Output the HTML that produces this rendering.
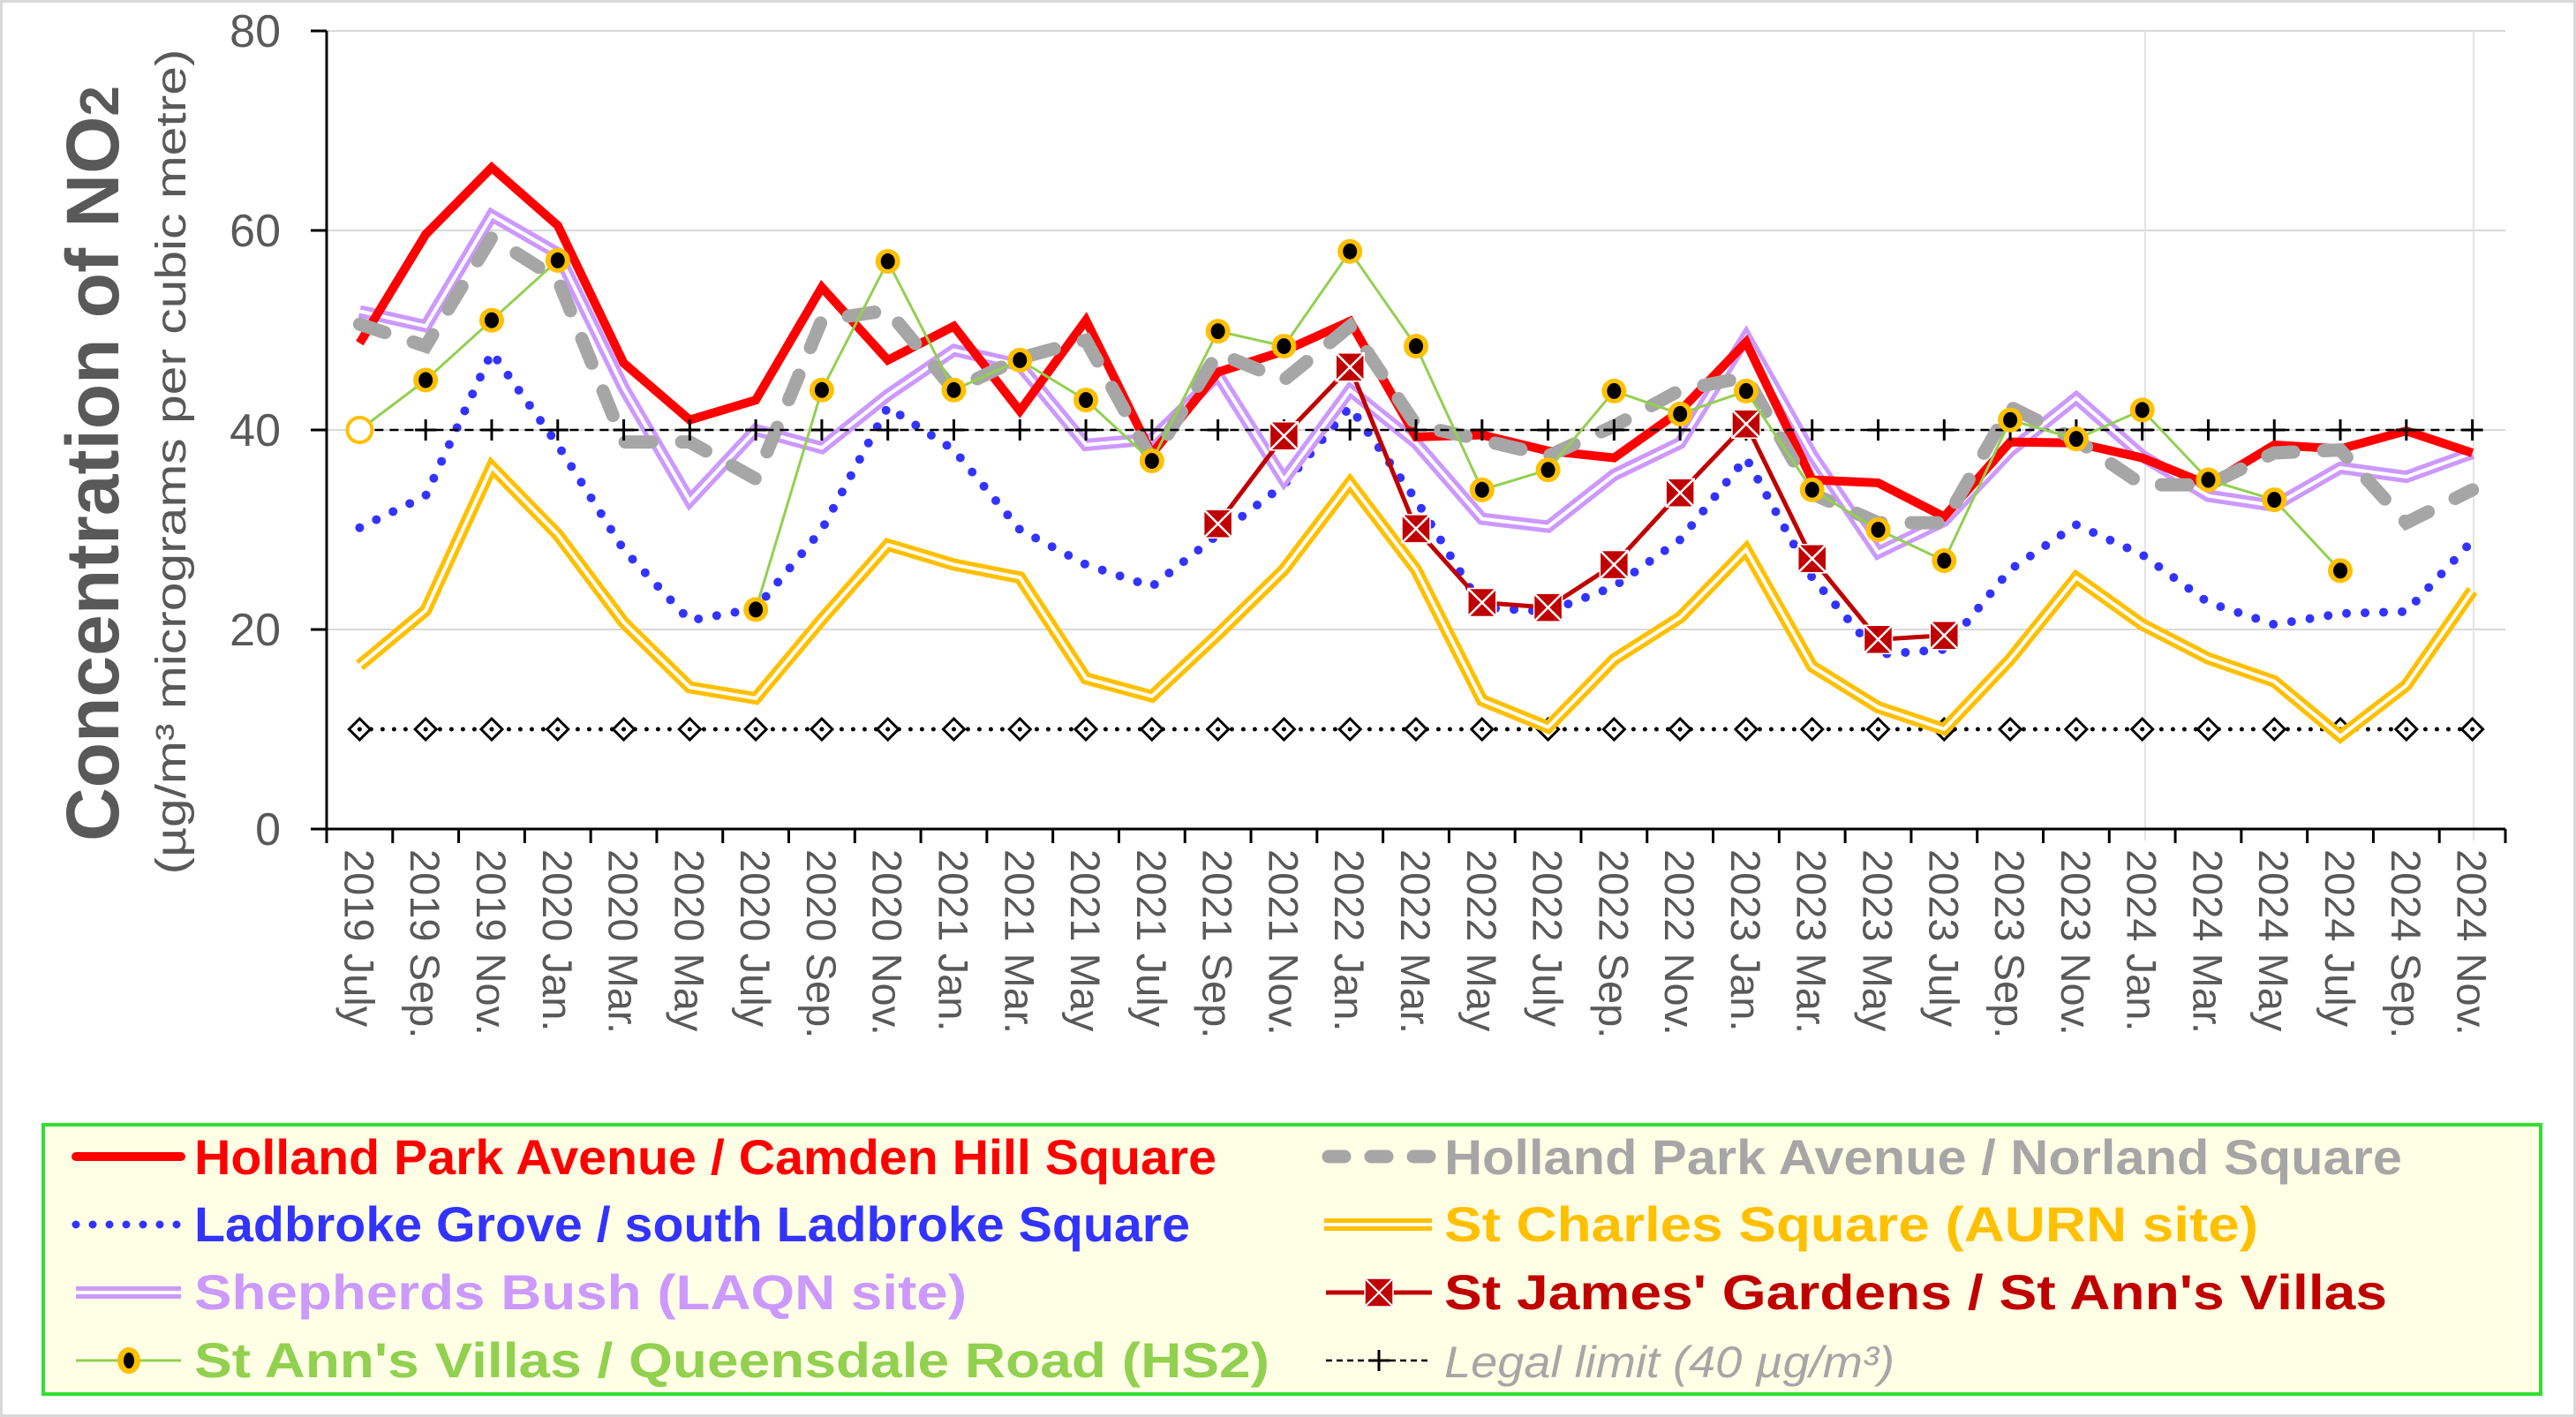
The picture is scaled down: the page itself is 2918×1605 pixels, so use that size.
<!DOCTYPE html>
<html><head><meta charset="utf-8"><style>
html,body{margin:0;padding:0;background:#fff}
svg{display:block}
text{font-family:"Liberation Sans",Arial,sans-serif}
</style></head><body>
<svg id="chart" width="2918" height="1605" viewBox="0 0 2918 1605" xmlns="http://www.w3.org/2000/svg">
<rect x="1.5" y="1.5" width="2915" height="1602" fill="#fff" stroke="#d9d9d9" stroke-width="3"/>
<g id="grid"></g>
<g id="series"></g>
<g id="axes"></g>
<text transform="translate(134,525) rotate(-90)" text-anchor="middle" font-size="84" font-weight="bold" fill="#595959">Concentration of NO<tspan font-size="62">2</tspan></text>
<text transform="translate(210,523) rotate(-90)" text-anchor="middle" font-size="48" fill="#595959" textLength="935" lengthAdjust="spacingAndGlyphs">(µg/m³ micrograms per cubic metre)</text>
<g>
<rect x="49" y="1274" width="2829" height="305" fill="#ffffe6" stroke="#33dd33" stroke-width="4"/>
<g id="legend-samples"></g>
<text x="220" y="1330" font-size="56" font-weight="bold" fill="#ff0000" textLength="1158" lengthAdjust="spacingAndGlyphs">Holland Park Avenue / Camden Hill Square</text>
<text x="220" y="1406" font-size="56" font-weight="bold" fill="#3333ff" textLength="1128" lengthAdjust="spacingAndGlyphs">Ladbroke Grove / south Ladbroke Square</text>
<text x="220" y="1483" font-size="56" font-weight="bold" fill="#cc99ff" textLength="875" lengthAdjust="spacingAndGlyphs">Shepherds Bush (LAQN site)</text>
<text x="220" y="1560" font-size="56" font-weight="bold" fill="#92d050" textLength="1218" lengthAdjust="spacingAndGlyphs">St Ann's Villas / Queensdale Road (HS2)</text>
<text x="1636" y="1330" font-size="56" font-weight="bold" fill="#a6a6a6" textLength="1085" lengthAdjust="spacingAndGlyphs">Holland Park Avenue / Norland Square</text>
<text x="1636" y="1406" font-size="56" font-weight="bold" fill="#ffc000" textLength="922" lengthAdjust="spacingAndGlyphs">St Charles Square (AURN site)</text>
<text x="1636" y="1483" font-size="56" font-weight="bold" fill="#c00000" textLength="1068" lengthAdjust="spacingAndGlyphs">St James' Gardens / St Ann's Villas</text>
<text x="1636" y="1560" font-size="50" font-style="italic" fill="#a6a6a6" textLength="510" lengthAdjust="spacingAndGlyphs">Legal limit (40 µg/m³)</text>
</g>
</svg>
<script>
const categories = ["2019 July","2019 Sep.","2019 Nov.","2020 Jan.","2020 Mar.","2020 May","2020 July","2020 Sep.","2020 Nov.","2021 Jan.","2021 Mar.","2021 May","2021 July","2021 Sep.","2021 Nov.","2022 Jan.","2022 Mar.","2022 May","2022 July","2022 Sep.","2022 Nov.","2023 Jan.","2023 Mar.","2023 May","2023 July","2023 Sep.","2023 Nov.","2024 Jan.","2024 Mar.","2024 May","2024 July","2024 Sep.","2024 Nov."];
const yTicks = [0,20,40,60,80];
const hollandCamden = [48.7,59.6,66.3,60.5,46.7,41.0,43.0,54.3,47,50.4,41.9,51,37.6,45.8,47.9,50.9,39.3,39.5,37.9,37.2,41.9,48.8,35,34.7,31.3,38.8,38.7,37.2,34.5,38.5,38.1,39.9,37.7];
const hollandNorland = [50.6,48.4,59.3,55.1,38.8,38.8,35.1,51,52,44,47.2,49,37,47.7,45,50.4,40.5,39,37.4,40.4,44,45.3,33.6,30.7,30.7,42.3,39,34.5,34.5,37.7,38,30.7,34];
const ladbroke = [30.2,33.4,47.8,38.5,28,20.9,22.1,30,42.3,38,30,26.5,24.3,29.5,34.5,42.3,33,22.2,21.8,24.3,29,37.2,25.2,17.5,18,26,30.5,27.5,22.7,20.5,21.6,21.8,28.9];
const stCharles = [16.4,21.9,36.3,29.5,20.7,14.2,13.1,21,28.5,26.5,25.2,15.1,13.3,19.5,26,34.7,26,12.9,10.2,17,21.2,28,16.3,12.2,10,17,25.2,20.5,17.1,14.8,9.3,14.4,23.9];
const shepherdsBush = [51.9,50.4,61.5,57.7,44.2,32.9,40,38.2,43.5,48,46.5,38.5,39.1,45.5,35,44,38.7,31.1,30.3,35.5,38.7,49.3,37.5,27.7,30.9,37.9,43.2,37.4,33.4,32.4,36.2,35.3,37.7];
const stJames = [null,null,null,null,null,null,null,null,null,null,null,null,null,30.6,39.4,46.3,30.1,22.7,22.2,26.5,33.7,40.6,27.1,19.0,19.4,null,null,null,null,null,null,null,null];
const stAnnsHS2 = [40,45,51,57,null,null,22,44,56.9,44,47,43,36.9,49.9,48.4,57.9,48.4,34,36,43.9,41.6,43.9,34,30,26.9,41,39.1,42,35,33,25.9,null,null];
const legalLimit = categories.map(()=>40);
const whoGuideline = categories.map(()=>10);

const NS="http://www.w3.org/2000/svg";
const X0=370,X1=2838,Y0=939,YTOP=35,VMAX=80;
const band=(X1-X0)/categories.length;
function xs(i){return X0+band*(i+0.5);}
function ys(v){return Y0-(v/VMAX)*(Y0-YTOP);}
function mk(tag,attrs,parent){const e=document.createElementNS(NS,tag);for(const k in attrs)e.setAttribute(k,attrs[k]);parent.appendChild(e);return e;}
const grid=document.getElementById('grid'),series=document.getElementById('series'),axes=document.getElementById('axes');

yTicks.forEach(t=>{
  if(t>0){const g=mk('line',{x1:X0,x2:X1,y1:ys(t),y2:ys(t),stroke:'#d9d9d9','stroke-width':2},grid);
  
  }
  const tk=mk('line',{x1:X0-18,x2:X0,y1:ys(t),y2:ys(t),stroke:'#000','stroke-width':3},axes);
  
  
  const lb=mk('text',{x:318,y:ys(t)+18,'text-anchor':'end','font-size':52,fill:'#595959'},axes);
  lb.textContent=t;
  
  
});
// faint artifact lines
[2430,2802].forEach(x=>{const l=mk('line',{x1:x,x2:x,y1:YTOP,y2:952,stroke:'#e3e3e3','stroke-width':2},grid);

});
const ax=mk('line',{x1:X0,x2:X0,y1:YTOP,y2:Y0+2,stroke:'#000','stroke-width':3},axes);


const xa=mk('line',{x1:X0-18,x2:X1,y1:Y0,y2:Y0,stroke:'#000','stroke-width':3},axes);


for(let i=0;i<=categories.length;i++){
  const x=X0+band*i;
  const t=mk('line',{x1:x,x2:x,y1:Y0,y2:Y0+16,stroke:'#000','stroke-width':3},axes);
  
  
}
categories.forEach((c,i)=>{
  const t=mk('text',{transform:`translate(${xs(i)-17},962) rotate(90)`,'font-size':47,fill:'#595959'},axes);
  t.textContent=c;
  
  
});

function pathD(vals){let d='',pen=false;vals.forEach((v,i)=>{if(v==null){pen=false;return;}d+=(pen?'L':'M')+xs(i).toFixed(1)+' '+ys(v).toFixed(1)+' ';pen=true;});return d;}
function line(vals,name,attrs){const p=mk('path',Object.assign({d:pathD(vals),fill:'none','stroke-linejoin':'miter'},attrs),series);

return p;}

// WHO 10 line with diamonds
line(whoGuideline,'guideline-10-line',{stroke:'#000','stroke-width':5,'stroke-dasharray':'0 13','stroke-linecap':'round'});
whoGuideline.forEach((v,i)=>{const x=xs(i),y=ys(v);
 const d=mk('path',{d:`M${x} ${y-12}L${x+12} ${y}L${x} ${y+12}L${x-12} ${y}Z`,fill:'#fff',stroke:'#000','stroke-width':3},series);
 
 
 const c=mk('circle',{cx:x,cy:y,r:2.5,fill:'#000'},series);
 
 });

// St Charles double
line(stCharles,'st-charles-line',{stroke:'#ffc000','stroke-width':14});
line(stCharles,'st-charles-line-inner',{stroke:'#fff','stroke-width':4});
// Ladbroke dotted
line(ladbroke,'ladbroke-line',{stroke:'#3333ff','stroke-width':10,'stroke-dasharray':'0 21','stroke-linecap':'round'});
// Shepherds Bush double
line(shepherdsBush,'shepherds-bush-line',{stroke:'#cc99ff','stroke-width':14});
line(shepherdsBush,'shepherds-bush-line-inner',{stroke:'#fff','stroke-width':4});
// Holland Camden red
line(hollandCamden,'holland-camden-line',{stroke:'#ff0000','stroke-width':10});
// Norland gray dashed
line(hollandNorland,'holland-norland-line',{stroke:'#a6a6a6','stroke-width':15,'stroke-dasharray':'30 34','stroke-linecap':'round'});
// Legal limit
line(legalLimit,'legal-limit-line',{stroke:'#000','stroke-width':2.5,'stroke-dasharray':'10 7'});
legalLimit.forEach((v,i)=>{const x=xs(i),y=ys(v);
 const p=mk('path',{d:`M${x-12} ${y}H${x+12}M${x} ${y-12}V${x?y+12:0}`,stroke:'#000','stroke-width':3,fill:'none'},series);
 
 });
// St James dark red squares
line(stJames,'st-james-line',{stroke:'#c00000','stroke-width':5});
stJames.forEach((v,i)=>{if(v==null)return;const x=xs(i),y=ys(v),s=16;
 const r=mk('rect',{x:x-s,y:y-s,width:2*s,height:2*s,fill:'#c00000',stroke:'#fff','stroke-width':1.5},series);
 
 
 const xx=mk('path',{d:`M${x-s} ${y-s}L${x+s} ${y+s}M${x+s} ${y-s}L${x-s} ${y+s}`,stroke:'#fff','stroke-width':2.5},series);
 
 });
// St Ann's HS2 green with circles
line(stAnnsHS2,'st-anns-hs2-line',{stroke:'#92d050','stroke-width':3});
stAnnsHS2.forEach((v,i)=>{if(v==null)return;const x=xs(i),y=ys(v);
 const c=mk('circle',{cx:x,cy:y,r:14,fill:i===0?'#fff':'#ffc000',stroke:'#ffc000','stroke-width':i===0?4:0},series);
 
 
 if(i>0){const b=mk('ellipse',{cx:x,cy:y,rx:8,ry:9,fill:'#000'},series);
 
 }});

// legend samples
const L=document.getElementById('legend-samples');
function sample(x1,x2,y,attrs,name){const p=mk('line',Object.assign({x1:x1,x2:x2,y1:y,y2:y},attrs),L);

}
sample(86,205,1310,{stroke:'#ff0000','stroke-width':10,'stroke-linecap':'round'},'legend-sample-red');
sample(86,205,1387,{stroke:'#3333ff','stroke-width':9,'stroke-dasharray':'0 19','stroke-linecap':'round'},'legend-sample-blue');
sample(86,205,1464,{stroke:'#cc99ff','stroke-width':14},'legend-sample-purple');
sample(86,205,1464,{stroke:'#fff','stroke-width':4},'legend-sample-purple-inner');
sample(86,205,1541,{stroke:'#92d050','stroke-width':3},'legend-sample-green');
(function(){const c=mk('ellipse',{cx:146,cy:1541,rx:13,ry:15,fill:'#ffc000'},L);


const b=mk('ellipse',{cx:146,cy:1541,rx:6,ry:9,fill:'#000'},L);

})();
sample(1505,1620,1310,{stroke:'#a6a6a6','stroke-width':15,'stroke-dasharray':'18 30','stroke-linecap':'round'},'legend-sample-gray');
sample(1500,1622,1387,{stroke:'#ffc000','stroke-width':14},'legend-sample-yellow');
sample(1500,1622,1387,{stroke:'#fff','stroke-width':4},'legend-sample-yellow-inner');
sample(1502,1622,1464,{stroke:'#c00000','stroke-width':5},'legend-sample-darkred');
(function(){const x=1562,y=1464,s=16;
const r=mk('rect',{x:x-s,y:y-s,width:2*s,height:2*s,fill:'#c00000',stroke:'#fff','stroke-width':1.5},L);


const xx=mk('path',{d:`M${x-s} ${y-s}L${x+s} ${y+s}M${x+s} ${y-s}L${x-s} ${y+s}`,stroke:'#fff','stroke-width':2},L);

})();
sample(1502,1622,1541,{stroke:'#000','stroke-width':2.5,'stroke-dasharray':'7 5'},'legend-sample-legal');
(function(){const p=mk('path',{d:'M1550 1541H1574M1562 1529V1553',stroke:'#000','stroke-width':3},L);

})();
</script>
</body></html>
